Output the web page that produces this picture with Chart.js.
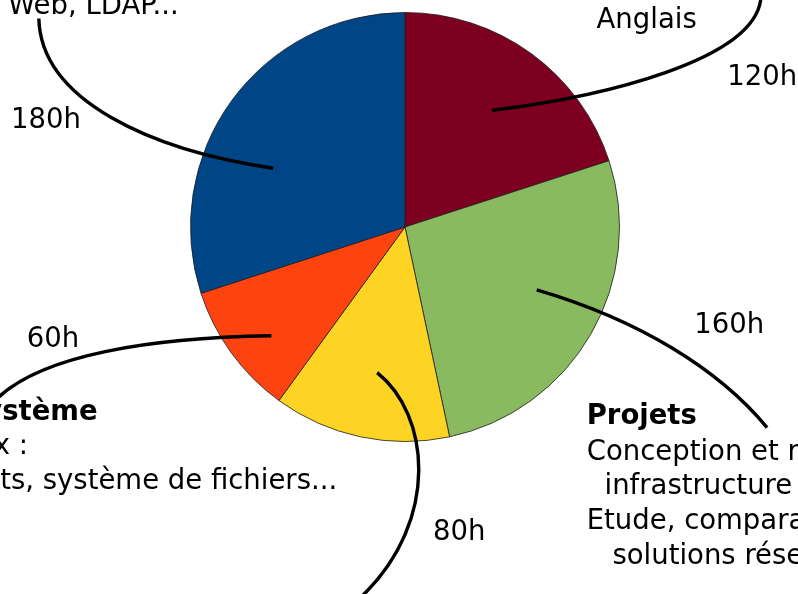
<!DOCTYPE html>
<html>
<head>
<meta charset="utf-8">
<script src="https://cdn.jsdelivr.net/npm/chart.js@4/dist/chart.umd.min.js"></script>
<style>
html,body{margin:0;padding:0;background:#fff;}
#wrap{width:798px;height:594px;position:relative;}
</style>
</head>
<body>
<div id="wrap"><canvas id="c" width="798" height="594"></canvas></div>
<script>
// Data
const categories = ["Anglais", "Projets", "Programmation", "Système", "Réseaux"];
const hours = [120, 160, 80, 60, 180];
const valueLabels = ["120h", "160h", "80h", "60h", "180h"];
const colors = ["#7e0021", "#8aba5f", "#fdd324", "#fd4410", "#004586"];

// Annotation curves, in units of pie radius relative to pie centre (u, v)
const curves = [
  [[0.405,-0.544],[0.907,-0.605],[1.651,-0.777],[1.660,-1.079]],
  [[0.614,0.293],[1.093,0.433],[1.465,0.665],[1.688,0.935]],
  [[-0.130,0.679],[0.116,0.874],[0.163,1.363],[-0.195,1.716]],
  [[-0.623,0.507],[-1.186,0.516],[-1.698,0.595],[-1.907,0.805]],
  [[-0.614,-0.274],[-1.186,-0.358],[-1.698,-0.591],[-1.707,-0.972]]
];
// Value label anchor positions (left x, baseline), relative units
const valuePos = [[1.502,-0.660],[1.349,0.493],[0.130,1.460],[-1.763,0.558],[-1.837,-0.460]];

// Description text blocks: [text, u, v, align, bold]
const descTexts = [
  ["Anglais", 0.893, -0.930, "left", false],
  ["Projets", 0.847, 0.920, "left", true],
  ["Conception et réalisation d'une", 0.847, 1.084, "left", false],
  ["infrastructure réseau", 0.930, 1.247, "left", false],
  ["Etude, comparaison de", 0.847, 1.409, "left", false],
  ["solutions réseaux", 0.967, 1.572, "left", false],
  ["Administration Système", -1.433, 0.898, "right", true],
  ["Linux :", -1.758, 1.060, "right", false],
  ["Utilisateurs, droits, système de fichiers...", -0.316, 1.223, "right", false],
  ["Web, LDAP...", -1.851, -0.995, "left", false]
];

const FONT = '27.5px "DejaVu Sans"';

const annot = {
  id: 'annot',
  afterDatasetsDraw(chart) {
    const arc = chart.getDatasetMeta(0).data[0];
    const cx = arc.x, cy = arc.y, r = arc.outerRadius;
    const P = (p) => [cx + p[0]*r, cy + p[1]*r];
    const ctx = chart.ctx;
    ctx.save();
    ctx.strokeStyle = '#000';
    ctx.lineWidth = 3.4;
    ctx.lineCap = 'butt';
    curves.forEach(c => {
      const a = P(c[0]), b = P(c[1]), d = P(c[2]), e = P(c[3]);
      ctx.beginPath();
      ctx.moveTo(a[0], a[1]);
      ctx.bezierCurveTo(b[0], b[1], d[0], d[1], e[0], e[1]);
      ctx.stroke();
    });
    ctx.fillStyle = '#000';
    ctx.textBaseline = 'alphabetic';
    ctx.font = FONT;
    ctx.textAlign = 'left';
    valueLabels.forEach((t, i) => {
      const p = P(valuePos[i]);
      ctx.fillText(t, p[0], p[1]);
    });
    descTexts.forEach(d => {
      ctx.font = (d[4] ? 'bold ' : '') + FONT;
      ctx.textAlign = d[3];
      const p = P([d[1], d[2]]);
      ctx.fillText(d[0], p[0], p[1]);
    });
    ctx.restore();
  }
};

new Chart(document.getElementById('c'), {
  type: 'pie',
  data: {
    labels: categories,
    datasets: [{
      data: hours,
      backgroundColor: colors,
      borderColor: 'rgba(30,30,30,0.8)',
      borderWidth: 1
    }]
  },
  options: {
    responsive: false,
    animation: false,
    layout: { padding: { left: 190, top: 12, right: 178, bottom: 152 } },
    plugins: { legend: { display: false }, tooltip: { enabled: false } }
  },
  plugins: [annot]
});
</script>
</body>
</html>
